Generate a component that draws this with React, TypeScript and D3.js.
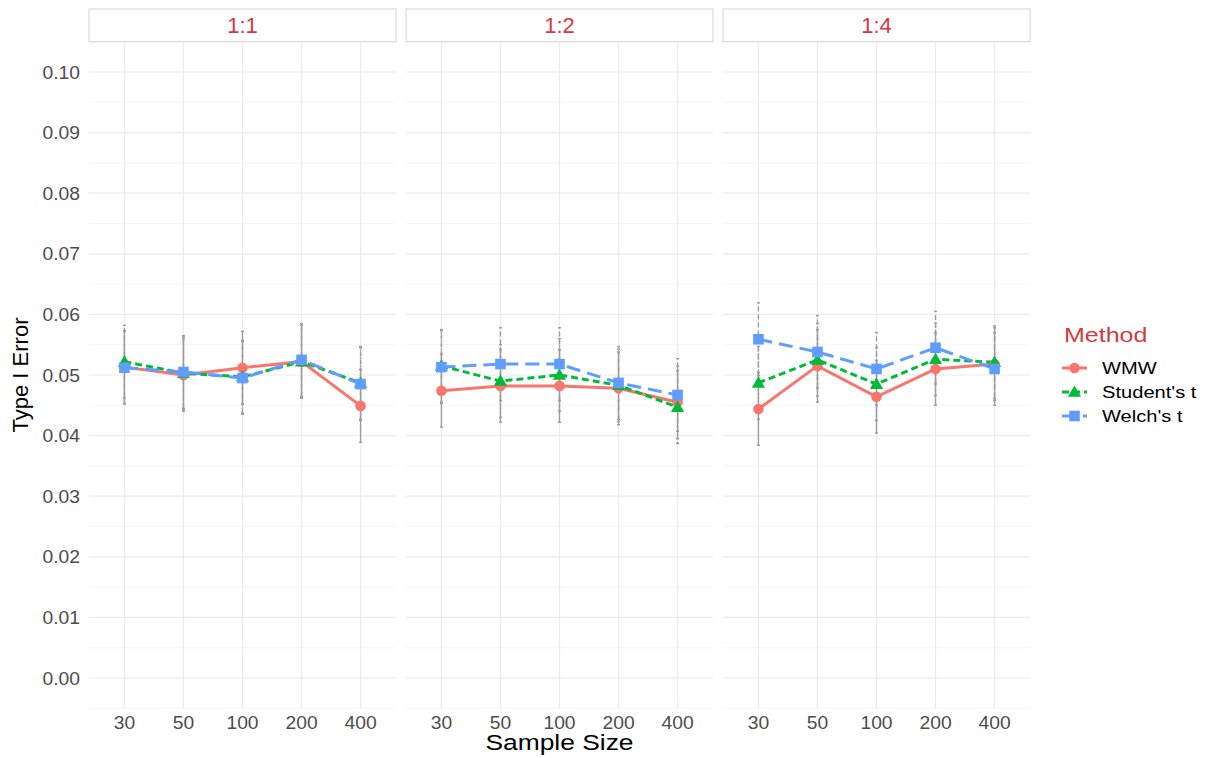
import * as d3 from "d3";

// facet labels, x categories and methods
const ratios = ["1:1", "1:2", "1:4"];
const sampleSizes = ["30", "50", "100", "200", "400"];
const methods = ["WMW", "Student's t", "Welch's t"];

// type I error per ratio (rows) and sample size (cols)
const wmw = [
  [0.0513, 0.05, 0.0512, 0.0522, 0.0449],
  [0.0474, 0.0482, 0.0482, 0.0478, 0.0455],
  [0.0444, 0.0515, 0.0464, 0.051, 0.0518],
];
const student = [
  [0.0522, 0.0503, 0.0497, 0.0522, 0.0487],
  [0.0515, 0.049, 0.05, 0.0483, 0.0447],
  [0.0487, 0.0525, 0.0485, 0.0526, 0.0521],
];
const welch = [
  [0.0512, 0.0505, 0.0495, 0.0525, 0.0485],
  [0.0513, 0.0518, 0.0518, 0.0487, 0.0467],
  [0.0559, 0.0538, 0.051, 0.0545, 0.051],
];
// half width of the grey interval bars
const ciHalf = 0.006;

const yTicks = [0, 0.01, 0.02, 0.03, 0.04, 0.05, 0.06, 0.07, 0.08, 0.09, 0.1];

const series = [wmw, student, welch];
const colors = ["#F8766D", "#00BA38", "#619CFF"];
const dashes = ["", "7,4", "14,7"];
const barDashes = ["", "2,2", "5,3"];

const W = 1208, H = 758;
const panelX = [89, 406, 723];
const panelW = 307;
const top = 41.7, bottom = 708.3;
const font = "'Liberation Sans', Arial, sans-serif";

const y = d3.scaleLinear().domain([-0.005, 0.105]).range([bottom, top]);

const Marker = ({ i, cx, cy }: { i: number; cx: number; cy: number }) => {
  if (i === 0) return <circle cx={cx} cy={cy} r={5.3} fill={colors[0]} />;
  if (i === 1) {
    const tri = d3.symbol().type(d3.symbolTriangle).size(75)();
    return <path d={tri ?? ""} transform={`translate(${cx},${cy + 1})`} fill={colors[1]} />;
  }
  return <rect x={cx - 5.3} y={cy - 5.3} width={10.6} height={10.6} fill={colors[2]} />;
};

const SText = ({ x, y, sx = 1, children, ...rest }: any) => (
  <text transform={`translate(${x},${y}) scale(${sx},1)`} {...rest}>
    {children}
  </text>
);

const Panel = ({ p }: { p: number }) => {
  const x0 = panelX[p];
  const x = d3.scalePoint<string>().domain(sampleSizes).range([x0, x0 + panelW]).padding(0.6);
  const minor = d3.range(-0.005, 0.1051, 0.01);
  const line = d3
    .line<number>()
    .x((_, j) => x(sampleSizes[j]) as number)
    .y((d) => y(d));
  return (
    <g>
      {minor.map((v, k) => (
        <line key={"mi" + k} x1={x0} x2={x0 + panelW} y1={y(v)} y2={y(v)} stroke="#f2f2f2" strokeWidth={0.7} />
      ))}
      {yTicks.map((v) => (
        <line key={"ma" + v} x1={x0} x2={x0 + panelW} y1={y(v)} y2={y(v)} stroke="#ebebeb" strokeWidth={1.2} />
      ))}
      {sampleSizes.map((s) => (
        <line key={"vx" + s} x1={x(s)} x2={x(s)} y1={top} y2={bottom} stroke="#ebebeb" strokeWidth={1.2} />
      ))}
      <rect x={x0} y={9} width={panelW} height={top - 9} fill="#ffffff" stroke="#d4d4d4" strokeWidth={1} />
      <text x={x0 + panelW / 2} y={33} textAnchor="middle" fontSize={22} fill="#d6383f" fontFamily={font}>
        {ratios[p]}
      </text>
      {series.map((s, i) =>
        s[p].map((v, j) => {
          const cx = x(sampleSizes[j]) as number;
          return (
            <g key={`eb${i}-${j}`} stroke="#9c9c9c" strokeWidth={1.4}>
              <line x1={cx} x2={cx} y1={y(v - ciHalf)} y2={y(v + ciHalf)} strokeDasharray={barDashes[i]} />
              <line x1={cx - 1.5} x2={cx + 1.5} y1={y(v - ciHalf)} y2={y(v - ciHalf)} />
              <line x1={cx - 1.5} x2={cx + 1.5} y1={y(v + ciHalf)} y2={y(v + ciHalf)} />
            </g>
          );
        })
      )}
      {series.map((s, i) => (
        <path key={"ln" + i} d={line(s[p]) ?? ""} fill="none" stroke={colors[i]} strokeWidth={3} strokeDasharray={dashes[i]} />
      ))}
      {series.map((s, i) =>
        s[p].map((v, j) => <Marker key={`pt${i}-${j}`} i={i} cx={x(sampleSizes[j]) as number} cy={y(v)} />)
      )}
      {sampleSizes.map((s) => (
        <SText key={"xt" + s} x={x(s)} y={728.5} sx={1.07} textAnchor="middle" fontSize={18} fill="#4d4d4d" fontFamily={font}>
          {s}
        </SText>
      ))}
    </g>
  );
};

export default function App() {
  return (
    <svg width={W} height={H} style={{ position: "absolute", left: 0, top: 0, background: "#fff" }}>
      <rect width={W} height={H} fill="#ffffff" />
      {ratios.map((_, p) => (
        <Panel key={p} p={p} />
      ))}
      {yTicks.map((v) => (
        <SText key={"yt" + v} x={80} y={y(v) + 6.5} sx={1.07} textAnchor="end" fontSize={18} fill="#4d4d4d" fontFamily={font}>
          {v.toFixed(2)}
        </SText>
      ))}
      <text transform={`translate(28,${(top + bottom) / 2}) rotate(-90)`} textAnchor="middle" fontSize={22} fill="#000" fontFamily={font}>
        Type I Error
      </text>
      <SText x={(panelX[0] + panelX[2] + panelW) / 2} y={750} sx={1.2} textAnchor="middle" fontSize={22} fill="#000" fontFamily={font}>
        Sample Size
      </SText>
      <SText x={1064} y={342} sx={1.19} fontSize={21} fill="#d6383f" fontFamily={font}>
        Method
      </SText>
      {methods.map((m, i) => {
        const ly = 368 + i * 24;
        return (
          <g key={m}>
            <line x1={1062} x2={1087} y1={ly} y2={ly} stroke={colors[i]} strokeWidth={3} strokeDasharray={dashes[i]} />
            <Marker i={i} cx={1074.5} cy={ly} />
            <SText x={1102} y={ly + 6} sx={1.22} fontSize={16.5} fill="#000" fontFamily={font}>
              {m}
            </SText>
          </g>
        );
      })}
    </svg>
  );
}
